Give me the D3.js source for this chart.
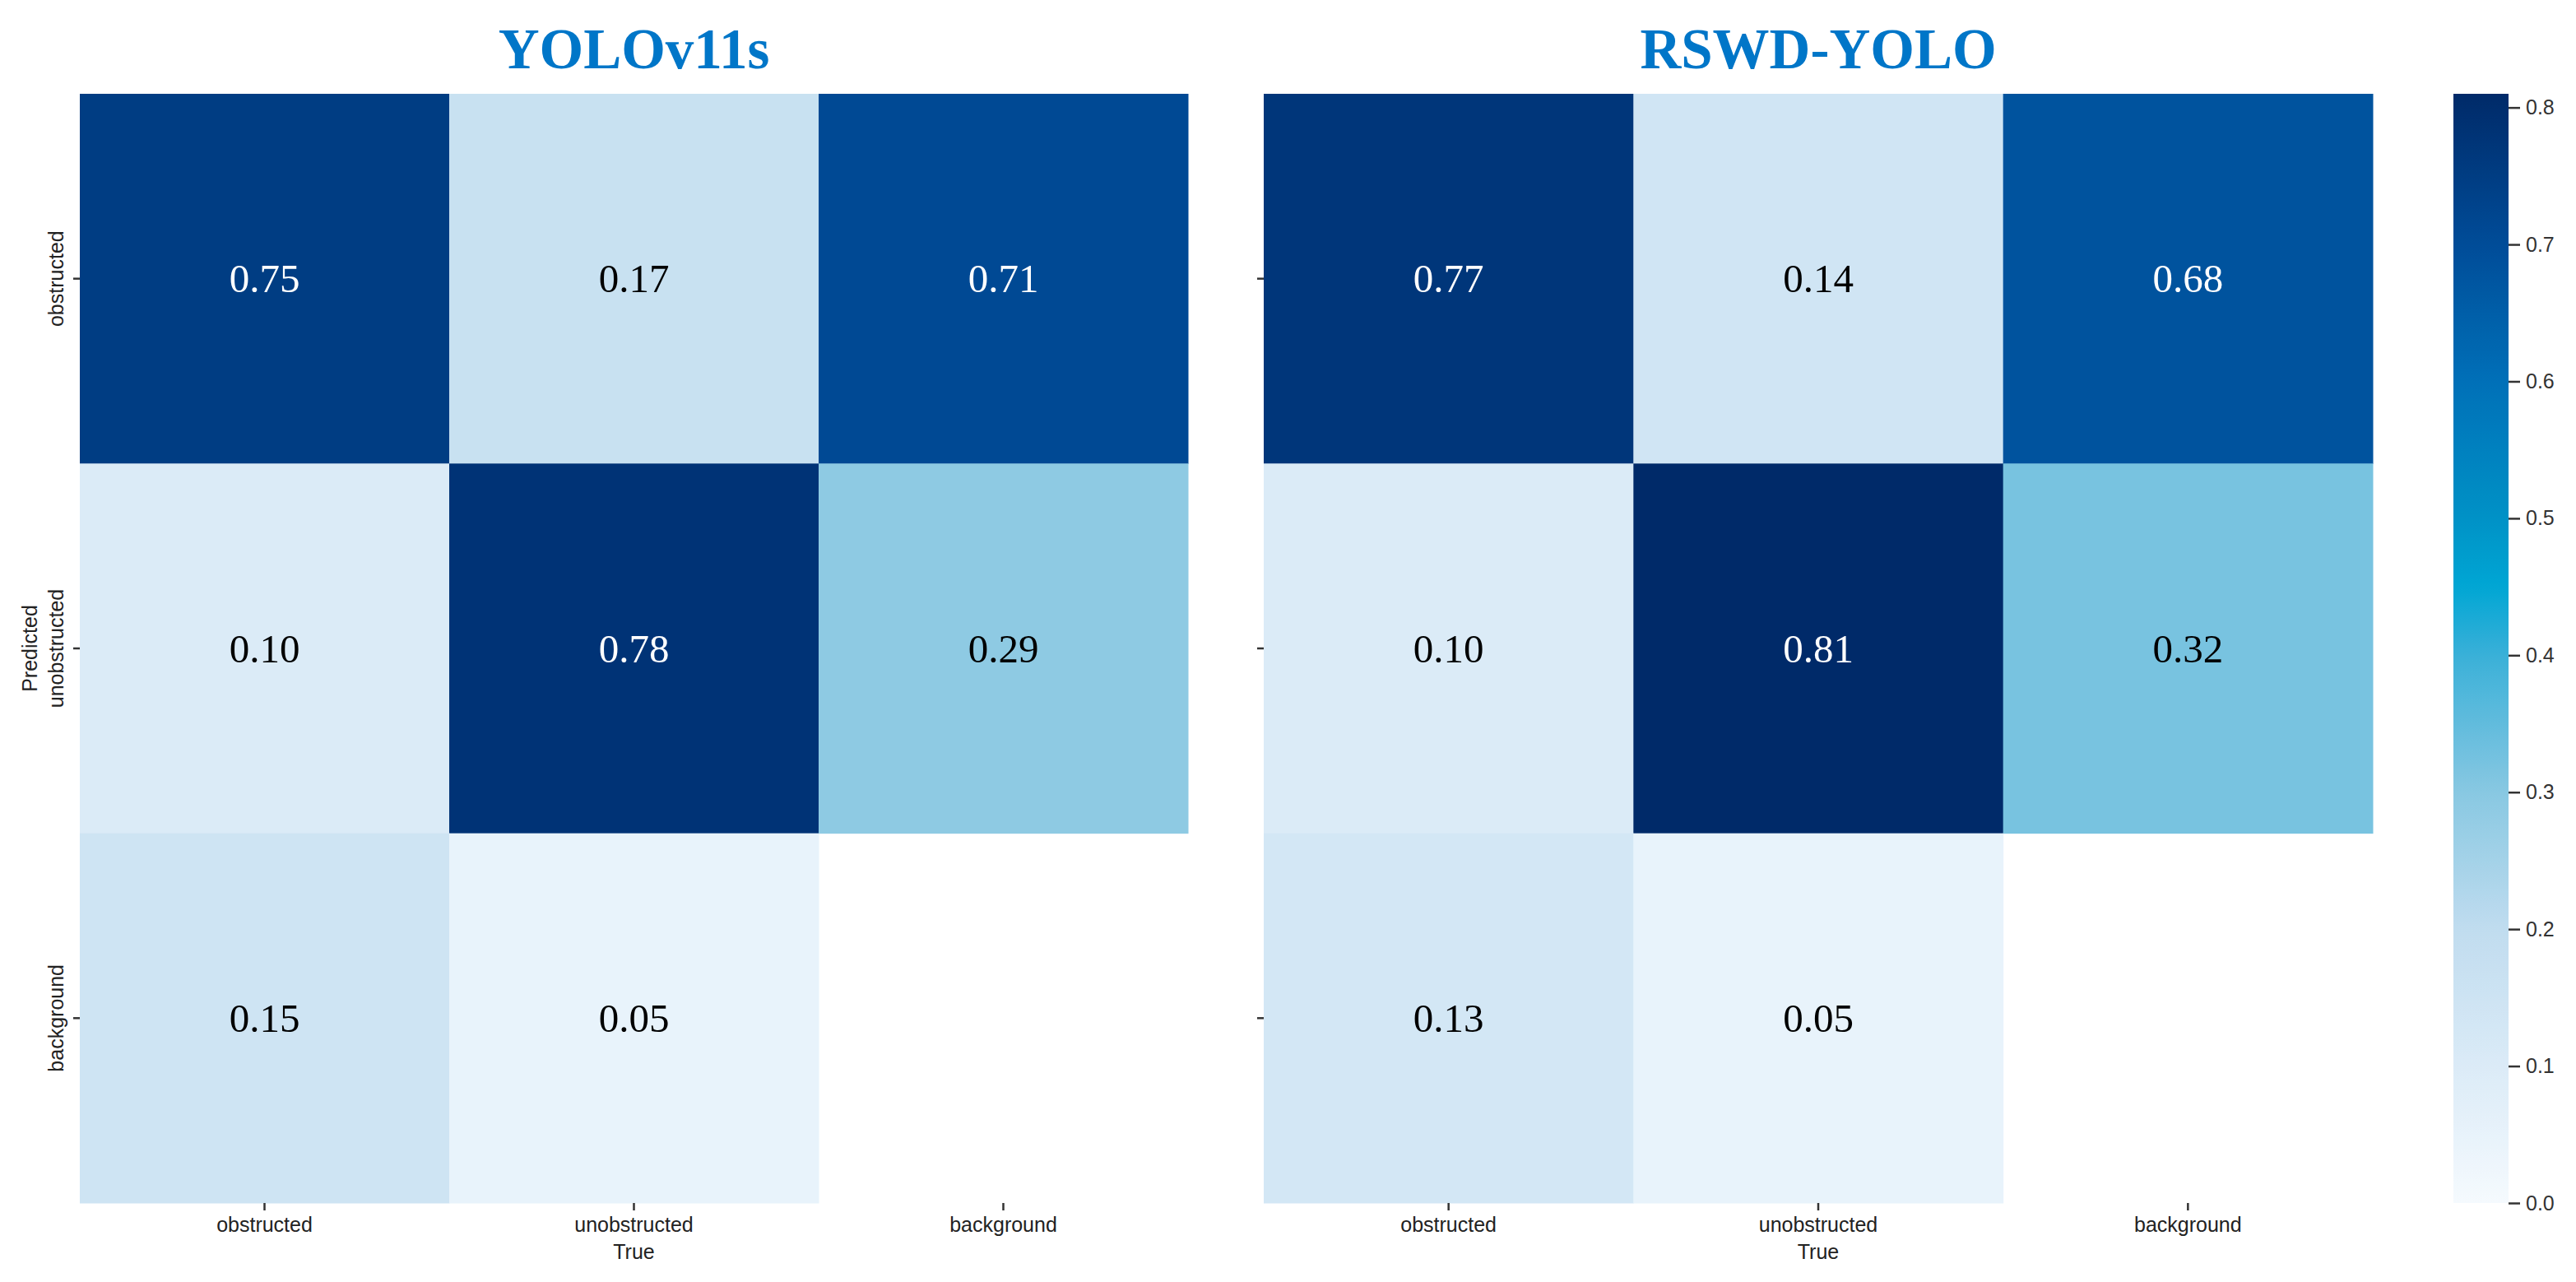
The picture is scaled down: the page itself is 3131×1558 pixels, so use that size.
<!DOCTYPE html>
<html>
<head>
<meta charset="utf-8">
<script src="https://cdn.jsdelivr.net/npm/d3@7"></script>
<style>
  body { margin: 0; background: #fff; }
  .tick text { font-family: "Liberation Sans", Arial, sans-serif; font-size: 25px; fill: #222; }
  .tick line { stroke: #333; stroke-width: 2.5; }
</style>
</head>
<body>
<script>
// Width and height
const w = 3131;
const h = 1558;

// data
const categories = ["obstructed", "unobstructed", "background"];
const titles = ["YOLOv11s", "RSWD-YOLO"];
// rows = predicted, columns = true; null = empty cell
const yoloValues = [
  [0.75, 0.17, 0.71],
  [0.10, 0.78, 0.29],
  [0.15, 0.05, null]
];
const rswdValues = [
  [0.77, 0.14, 0.68],
  [0.10, 0.81, 0.32],
  [0.13, 0.05, null]
];
const colorbarTicks = [0, 0.1, 0.2, 0.3, 0.4, 0.5, 0.6, 0.7, 0.8];
const vmax = 0.81;

// colour ramp as it looks on the colorbar
const rampStops = [0, 0.1, 0.2, 0.3, 0.4, 0.45, 0.5, 0.6, 0.7, 0.81];
const rampColors = ["#f5fafe", "#dbebf7", "#c0dcef", "#88c8e2", "#3ab0d8",
                    "#00a6d4", "#0092c6", "#0070b8", "#004c98", "#002a69"];

const color = d3.scaleLinear()
  .domain(rampStops)
  .range(rampColors)
  .interpolate(d3.interpolateRgb)
  .clamp(true);

const svg = d3.select("body")
  .append("svg")
  .attr("width", w)
  .attr("height", h);

const plotTop = 114, plotBottom = 1462;
const panels = [
  { title: titles[0], values: yoloValues, x0: 97, x1: 1444, showY: true },
  { title: titles[1], values: rswdValues, x0: 1536, x1: 2884, showY: false }
];

panels.forEach(function(p) {
  const x = d3.scaleBand().domain(categories).range([p.x0, p.x1]);
  const y = d3.scaleBand().domain(categories).range([plotTop, plotBottom]);

  const g = svg.append("g");

  // flatten cells
  const cells = [];
  p.values.forEach(function(row, i) {
    row.forEach(function(v, j) {
      cells.push({ pred: categories[i], truth: categories[j], v: v });
    });
  });

  g.selectAll("rect.cell")
    .data(cells.filter(d => d.v !== null))
    .enter()
    .append("rect")
    .attr("class", "cell")
    .attr("x", d => x(d.truth))
    .attr("y", d => y(d.pred))
    .attr("width", x.bandwidth() + 0.5)
    .attr("height", y.bandwidth() + 0.5)
    .attr("fill", d => color(d.v));

  g.selectAll("text.val")
    .data(cells.filter(d => d.v !== null))
    .enter()
    .append("text")
    .attr("class", "val")
    .attr("x", d => x(d.truth) + x.bandwidth() / 2)
    .attr("y", d => y(d.pred) + y.bandwidth() / 2)
    .attr("text-anchor", "middle")
    .attr("dominant-baseline", "central")
    .style("font-family", "'Liberation Serif', 'Times New Roman', serif")
    .style("font-size", "49px")
    .attr("fill", d => d.v > 0.5 ? "#fff" : "#000")
    .text(d => d.v.toFixed(2));

  // title
  svg.append("text")
    .attr("x", (p.x0 + p.x1) / 2)
    .attr("y", 83)
    .attr("text-anchor", "middle")
    .style("font-family", "'Liberation Serif', 'Times New Roman', serif")
    .style("font-weight", "bold")
    .style("font-size", "69px")
    .attr("fill", "#0076c8")
    .text(p.title);

  // x axis
  const xa = svg.append("g")
    .attr("transform", "translate(0," + plotBottom + ")")
    .call(d3.axisBottom(x).tickSize(9).tickPadding(8));
  xa.select(".domain").remove();

  svg.append("text")
    .attr("x", (p.x0 + p.x1) / 2)
    .attr("y", 1530)
    .attr("text-anchor", "middle")
    .style("font-family", "'Liberation Sans', Arial, sans-serif")
    .style("font-size", "25px")
    .attr("fill", "#222")
    .text("True");

  // y axis
  const ya = svg.append("g")
    .attr("transform", "translate(" + p.x0 + ",0)")
    .call(d3.axisLeft(y).tickSize(8).tickFormat(p.showY ? null : ""));
  ya.select(".domain").remove();
  if (p.showY) {
    ya.selectAll(".tick text")
      .attr("x", null)
      .attr("dy", null)
      .attr("text-anchor", "middle")
      .attr("transform", "translate(-20,0) rotate(-90)");

    svg.append("text")
      .attr("transform", "translate(45," + (y("unobstructed") + y.bandwidth() / 2) + ") rotate(-90)")
      .attr("text-anchor", "middle")
      .style("font-family", "'Liberation Sans', Arial, sans-serif")
      .style("font-size", "25px")
      .attr("fill", "#222")
      .text("Predicted");
  }
});

// colorbar
const cbX = 2982, cbW = 67;
const cbScale = d3.scaleLinear().domain([0, vmax]).range([plotBottom, plotTop]);

const grad = svg.append("defs")
  .append("linearGradient")
  .attr("id", "cbgrad")
  .attr("x1", 0).attr("y1", 1).attr("x2", 0).attr("y2", 0);
grad.selectAll("stop")
  .data(d3.range(0, 101))
  .enter()
  .append("stop")
  .attr("offset", d => d + "%")
  .attr("stop-color", d => color(d / 100 * vmax));

svg.append("rect")
  .attr("x", cbX)
  .attr("y", plotTop)
  .attr("width", cbW)
  .attr("height", plotBottom - plotTop)
  .attr("fill", "url(#cbgrad)");

const ca = svg.append("g")
  .attr("transform", "translate(" + (cbX + cbW) + ",0)")
  .call(d3.axisRight(cbScale)
    .tickValues(colorbarTicks)
    .tickSize(14)
    .tickPadding(7)
    .tickFormat(d3.format(".1f")));
ca.select(".domain").remove();
ca.selectAll(".tick text").style("fill", "#333");
</script>
</body>
</html>
